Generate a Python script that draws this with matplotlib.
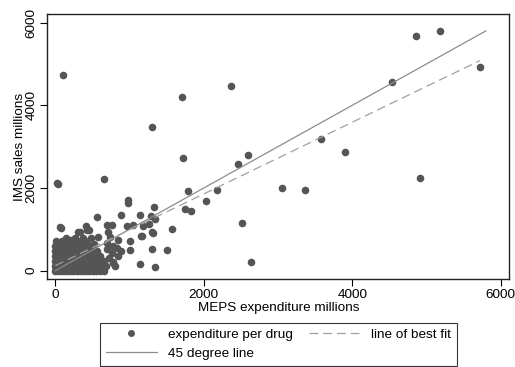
import matplotlib
matplotlib.use("Agg")
import matplotlib.pyplot as plt
from matplotlib.lines import Line2D

plt.rcParams['font.family'] = ['Liberation Sans', 'DejaVu Sans']

# Scattered drugs outside the dense cluster (MEPS, IMS), millions
meps_outer = [108, 18, 36, 656, 68, 566, 1702, 2366, 1302, 1724, 2590, 2465,
              1791, 2181, 2034, 1746, 1823, 1333, 979, 983, 2518, 2635, 1571,
              1504, 1306, 1338, 1145, 1006, 1306, 1140, 889, 1154, 781, 646,
              4857, 5175, 5718, 4538, 3578, 3905, 4906, 3057, 3358, 1284, 1342,
              759, 961, 1050, 1177, 1320, 1163, 736, 848, 692, 700, 579, 409,
              458, 301, 373, 215, 328, 714, 422, 826, 781, 83, 1266, 1006,
              720, 765, 805, 850, 700, 780, 880]
ims_outer = [4733, 2113, 2097, 2225, 1057, 1299, 4201, 4459, 3468, 2718, 2798, 2580,
             1920, 1959, 1686, 1485, 1436, 1540, 1717, 1637, 1161, 218, 1016,
             508, 532, 97, 169, 493, 929, 1340, 1340, 847, 193, 34,
             5684, 5797, 4926, 4563, 3193, 2871, 2250, 2000, 1944, 1323, 1243,
             1105, 1088, 1105, 1081, 919, 839, 822, 742, 663, 1105, 808, 1088,
             984, 929, 783, 742, 943, 943, 984, 541, 218, 1025, 1129, 718,
             300, 420, 120, 350, 520, 600, 470]

# Dense cluster of small drugs near the origin, row by row (IMS value: MEPS values)
cluster_rows = {
    0: [0, 35, 75, 115, 160, 200, 245, 290, 330, 375, 420, 460, 505, 550, 600, 650],
    50: [15, 55, 95, 140, 180, 225, 270, 310, 355, 400, 445, 490, 530, 575],
    110: [0, 40, 80, 120, 165, 210, 250, 295, 340, 385, 430, 470, 515, 560, 620, 680],
    170: [20, 60, 100, 145, 190, 235, 280, 320, 365, 410, 455, 500, 545, 600],
    230: [0, 40, 85, 130, 175, 215, 260, 305, 350, 395, 440, 485, 530, 580, 650],
    290: [20, 60, 105, 150, 195, 240, 285, 330, 375, 420, 465, 510, 560],
    350: [0, 40, 85, 130, 170, 215, 260, 305, 350, 400, 445, 500, 600],
    410: [20, 65, 110, 150, 195, 240, 285, 330, 380, 430, 480, 540],
    470: [0, 45, 90, 135, 180, 225, 270, 320, 370, 460, 560],
    530: [20, 65, 110, 155, 200, 250, 300, 350, 420, 510],
    590: [0, 45, 90, 140, 190, 240, 290, 380, 470],
    650: [25, 70, 120, 170, 260, 330, 430, 520],
    720: [10, 90, 200, 300, 400],
    800: [150, 260, 480],
}

meps = list(meps_outer)
ims = list(ims_outer)
for y_val, xs in cluster_rows.items():
    for x_val in xs:
        meps.append(x_val)
        ims.append(y_val)

# Line of best fit
fit_intercept = 122
fit_slope = 0.867

fig = plt.figure(figsize=(5.15, 3.67), dpi=100)
ax = fig.add_axes([0.0918, 0.239, 0.897, 0.723])

ax.scatter(meps, ims, s=30, color="#555555", linewidths=0, zorder=2)

# 45 degree line over the range of IMS values
lo, hi = min(ims), max(ims)
ax.plot([lo, hi], [lo, hi], color="#8c8c8c", linewidth=0.9, zorder=3)

# line of best fit over the range of MEPS values
fx = [min(meps), max(meps)]
fy = [fit_intercept + fit_slope * v for v in fx]
ax.plot(fx, fy, color="#a0a0a0", linewidth=0.9, linestyle=(0, (7, 4)), zorder=3)

ax.set_xlim(-108, 6113)
ax.set_ylim(-208, 6208)
ax.set_xticks([0, 2000, 4000, 6000])
ax.set_yticks([0, 2000, 4000, 6000])
ax.tick_params(direction="out", length=5, width=0.8, labelsize=9.7,
               colors="black", pad=2)
for lab in ax.get_yticklabels():
    lab.set_rotation(90)
    lab.set_va("center")
for sp in ax.spines.values():
    sp.set_linewidth(1.0)
    sp.set_color("#222222")

ax.set_xlabel("MEPS expenditure millions", fontsize=9.7, labelpad=1)
ax.set_ylabel("IMS sales millions", fontsize=9.7, labelpad=0)

handles = [
    Line2D([], [], marker="o", linestyle="none", color="#555555", markersize=4),
    Line2D([], [], color="#8c8c8c", linewidth=0.9),
    Line2D([], [], color="#a0a0a0", linewidth=0.9, linestyle=(0, (7, 4))),
]
labels = ["expenditure per drug", "45 degree line", "line of best fit"]
leg = fig.legend(handles, labels, loc="lower center", bbox_to_anchor=(0.54, 0.0),
                 ncol=2, fontsize=9.7, frameon=True, fancybox=False,
                 edgecolor="black", handlelength=3.8, columnspacing=1.2,
                 borderpad=0.45, labelspacing=0.45, borderaxespad=0.1)
leg.get_frame().set_linewidth(0.8)

fig.savefig("out.png", dpi=100)
